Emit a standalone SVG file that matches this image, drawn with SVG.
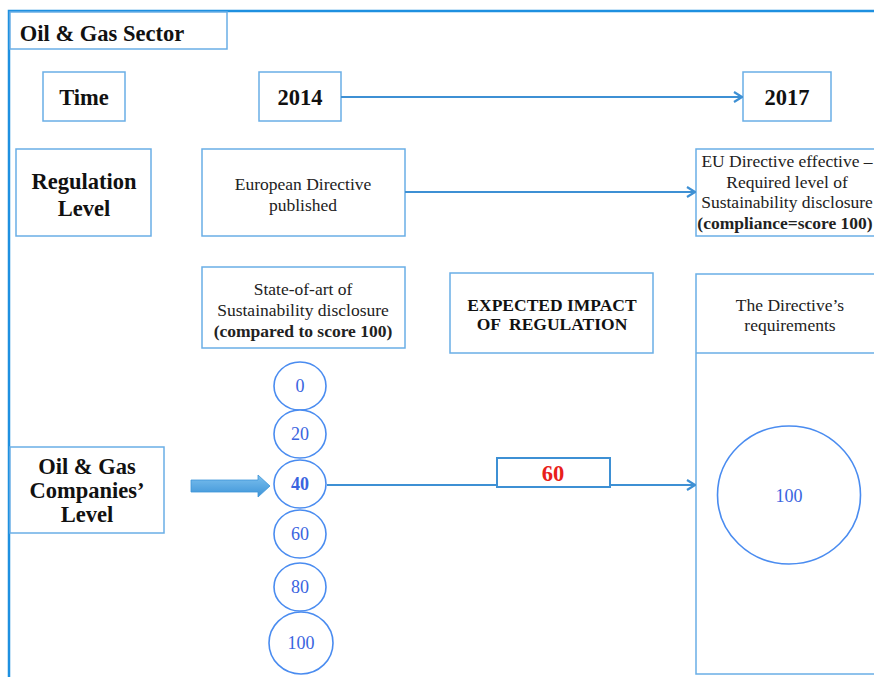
<svg xmlns="http://www.w3.org/2000/svg" width="874" height="677" viewBox="0 0 874 677">
<defs>
<style>
.box{fill:#fff;stroke:#6aaee6;stroke-width:1.5}
.hd{font-family:'Liberation Serif','DejaVu Serif','Times New Roman',serif;font-weight:bold;fill:#111;text-anchor:middle}
.tx{font-family:'Liberation Serif','DejaVu Serif','Times New Roman',serif;fill:#222;text-anchor:middle;font-size:17.5px}
.cir{fill:#fff;stroke:#4a8cf0;stroke-width:1.6}
.num{font-family:'Liberation Serif','DejaVu Serif','Times New Roman',serif;fill:#3a64e0;text-anchor:middle;font-size:18px}
.con{fill:none;stroke:#3e90d4;stroke-width:2.2}
</style>
<marker id="ah" viewBox="0 0 12 12" refX="11" refY="6" markerWidth="12" markerHeight="12" orient="auto" markerUnits="userSpaceOnUse">
<path d="M3,1 L11,6 L3,11" fill="none" stroke="#3e90d4" stroke-width="2.2"/>
</marker>
<linearGradient id="bg" x1="0" y1="0" x2="0" y2="1">
<stop offset="0" stop-color="#7cc0ee"/>
<stop offset="1" stop-color="#3d94d8"/>
</linearGradient>
</defs>
<rect width="874" height="677" fill="#fff"/>
<path d="M9,690 V11 H880" fill="none" stroke="#1e90e0" stroke-width="2.5"/>

<g id="sector"><rect class="box" x="10" y="12" width="217" height="37"/><text class="hd" x="102" y="41" font-size="22.5">Oil &amp; Gas Sector</text></g>
<g id="time"><rect class="box" x="43" y="72" width="82" height="49"/><text class="hd" x="84" y="105" font-size="22.5">Time</text></g>
<g id="y2014"><rect class="box" x="259" y="72" width="82" height="49"/><text class="hd" x="300" y="105" font-size="22.5">2014</text></g>
<g id="y2017"><rect class="box" x="743" y="72" width="88" height="49"/><text class="hd" x="787" y="105" font-size="22.5">2017</text></g>
<g id="reglevel"><rect class="box" x="16" y="149" width="135" height="87"/><text class="hd" x="84" y="189" font-size="22.5">Regulation</text><text class="hd" x="84" y="216" font-size="22.5">Level</text></g>
<g id="eudir"><rect class="box" x="202" y="149" width="203" height="87"/><text class="tx" x="303" y="190">European Directive</text><text class="tx" x="303" y="211">published</text></g>
<g id="eueff"><rect class="box" x="696" y="149" width="190" height="87"/><text class="tx" x="787" y="167" font-size="16.5">EU Directive effective –</text><text class="tx" x="787" y="188" font-size="16.5">Required level of</text><text class="tx" x="787" y="208" font-size="16.5">Sustainability disclosure</text><text class="tx" x="785" y="229" font-size="17" font-weight="bold" fill="#111">(compliance=score 100)</text></g>
<g id="state"><rect class="box" x="202" y="267" width="203" height="81"/><text class="tx" x="303" y="295">State-of-art of</text><text class="tx" x="303" y="315.5">Sustainability disclosure</text><text class="tx" x="303" y="336.5" font-weight="bold" fill="#111">(compared to score 100)</text></g>
<g id="impact"><rect class="box" x="450" y="273" width="203" height="80"/><text class="hd" x="552" y="311" font-size="17.5">EXPECTED IMPACT</text><text class="hd" x="552" y="330" font-size="17.5" xml:space="preserve">OF  REGULATION</text></g>
<g id="reqs"><rect class="box" x="696" y="274" width="190" height="400"/><line x1="696" y1="353" x2="886" y2="353" stroke="#6aaee6" stroke-width="1.5"/><text class="tx" x="790" y="311">The Directive’s</text><text class="tx" x="790" y="331">requirements</text></g>
<g id="companies"><rect class="box" x="10" y="447" width="154" height="86"/><text class="hd" x="87" y="474" font-size="22.5">Oil &amp; Gas</text><text class="hd" x="87" y="498" font-size="22.5">Companies’</text><text class="hd" x="87" y="522" font-size="22.5">Level</text></g>

<g id="connectors">
<line class="con" x1="341" y1="97" x2="742" y2="97" marker-end="url(#ah)"/>
<line class="con" x1="405" y1="192" x2="695" y2="192" marker-end="url(#ah)"/>
<line class="con" x1="327" y1="485" x2="695" y2="485" marker-end="url(#ah)"/>
<path d="M191,480 H258 V475 L270,486 L258,497 V492 H191 Z" fill="url(#bg)" stroke="#3d94d8" stroke-width="0.8"/>
</g>

<g id="s0"><ellipse class="cir" cx="300" cy="386" rx="26" ry="24"/><text class="num" x="300" y="392">0</text></g>
<g id="s20"><ellipse class="cir" cx="300" cy="434" rx="26" ry="24"/><text class="num" x="300" y="440">20</text></g>
<g id="s60"><ellipse class="cir" cx="300" cy="534" rx="26" ry="24"/><text class="num" x="300" y="540">60</text></g>
<g id="s80"><ellipse class="cir" cx="300" cy="587" rx="26" ry="24"/><text class="num" x="300" y="593">80</text></g>
<g id="s100"><ellipse class="cir" cx="301" cy="643" rx="32" ry="31"/><text class="num" x="301" y="649">100</text></g>
<g id="s40"><ellipse class="cir" cx="300" cy="484" rx="26" ry="24" stroke-width="3.2" stroke="#2f7be8"/><text class="num" x="300" y="490" font-weight="bold">40</text></g>

<g id="gap"><rect x="497" y="458" width="113" height="29" fill="#fff" stroke="#3e90d4" stroke-width="2"/><text class="hd" x="553" y="481" font-size="22.5" style="fill:#e8201a">60</text></g>

<g id="target"><ellipse class="cir" cx="789" cy="495" rx="71.5" ry="69"/><text class="num" x="789" y="502">100</text></g>
</svg>
